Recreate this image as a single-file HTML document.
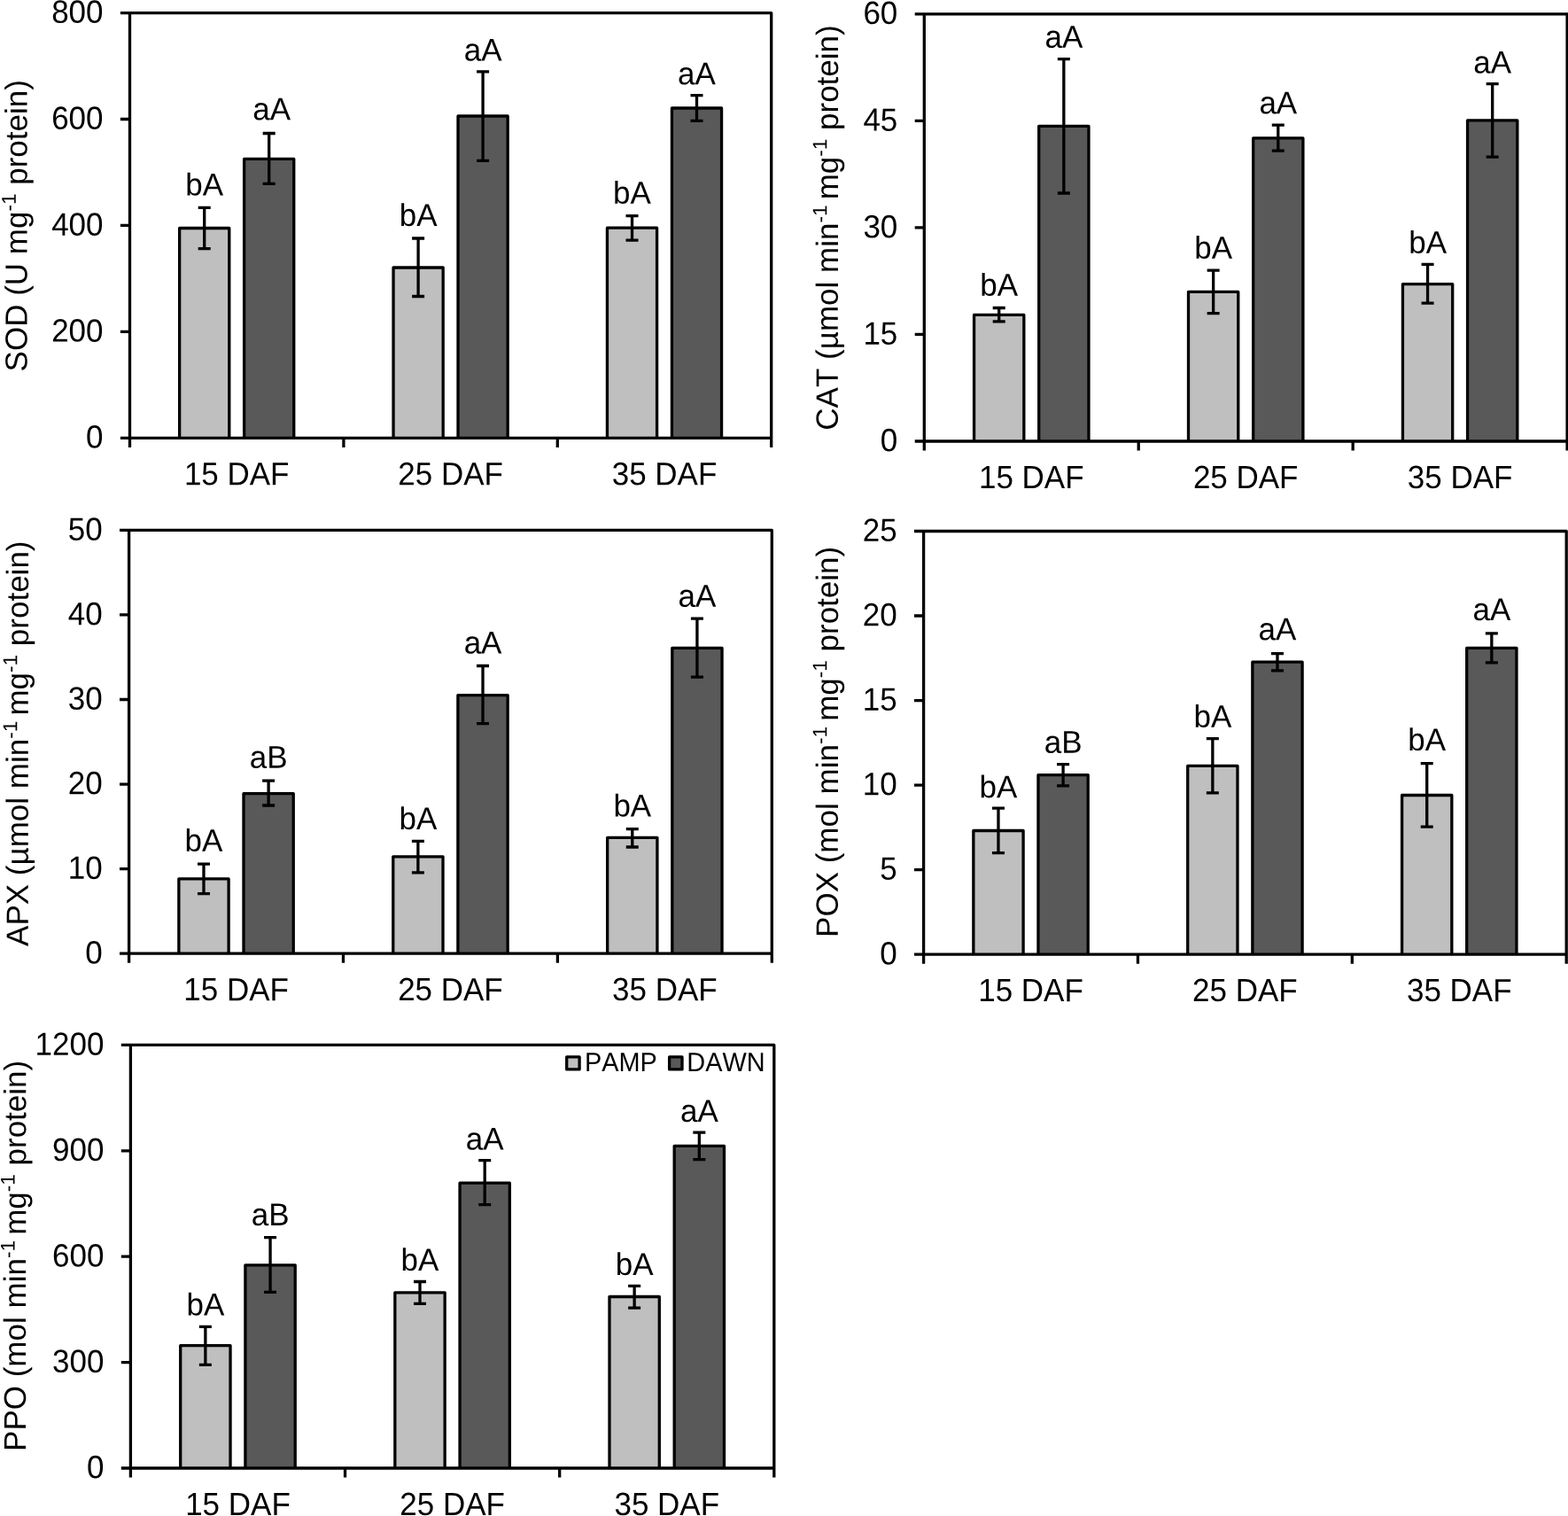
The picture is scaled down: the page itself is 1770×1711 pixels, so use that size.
<!DOCTYPE html>
<html lang="en"><head><meta charset="utf-8"><title>Antioxidant enzyme activity</title>
<style>
html,body{margin:0;padding:0;background:#fff;}
body{width:1770px;height:1711px;overflow:hidden;}
svg{display:block;}
text{font-family:"Liberation Sans",Arial,Helvetica,sans-serif;font-size:35px;fill:#000;font-kerning:none;}
.ln{stroke:#000;stroke-width:3.3;fill:none;stroke-linecap:butt;stroke-linejoin:round;}
.lb{fill:#bfbfbf;stroke:#000;stroke-width:3.3;stroke-linejoin:round;}
.db{fill:#595959;stroke:#000;stroke-width:3.3;stroke-linejoin:round;}
.m{text-anchor:middle;}.e{text-anchor:end;}
.lg{font-size:28.9px;}
</style></head><body>
<svg width="1770" height="1711" viewBox="0 0 1770 1711" role="img" aria-label="Antioxidant enzyme activities (SOD, CAT, APX, POX, PPO) in PAMP and DAWN at 15, 25 and 35 DAF">
<rect x="0" y="0" width="1770" height="1711" fill="#fff"/>
<g id="sod">
<path class="lb" d="M202.64 494.3V257.5H258.78V494.3"/>
<path class="db" d="M275.62 494.3V179.3H331.76V494.3"/>
<path class="lb" d="M444.04 494.3V302H500.18V494.3"/>
<path class="db" d="M517.02 494.3V131H573.16V494.3"/>
<path class="lb" d="M685.44 494.3V257.2H741.58V494.3"/>
<path class="db" d="M758.42 494.3V122H814.56V494.3"/>
<path class="ln" d="M135.9 14.55H870.7V504.9"/>
<path class="ln" d="M146.5 14.55V504.9"/>
<path class="ln" d="M135.9 494.3H870.7"/>
<path class="ln" d="M135.9 134.49H146.5M135.9 254.43H146.5M135.9 374.36H146.5M387.9 494.3V504.9M629.3 494.3V504.9"/>
<path class="ln" d="M230.71 234.3V280.6M223.71 234.3H237.71M223.71 280.6H237.71M303.69 150.5V207.3M296.69 150.5H310.69M296.69 207.3H310.69M472.11 269V334.5M465.11 269H479.11M465.11 334.5H479.11M545.09 80.8V181.3M538.09 80.8H552.09M538.09 181.3H552.09M713.51 243.6V271.1M706.51 243.6H720.51M706.51 271.1H720.51M786.49 107.7V136.3M779.49 107.7H793.49M779.49 136.3H793.49"/>
<text class="m" transform="matrix(1 0.001 0 1.02 230.71 220.4)">bA</text>
<text class="m" transform="matrix(1 0.001 0 1.02 306.59 135.3)">aA</text>
<text class="m" transform="matrix(1 0.001 0 1.02 472.11 254.9)">bA</text>
<text class="m" transform="matrix(1 0.001 0 1.02 545.09 68.5)">aA</text>
<text class="m" transform="matrix(1 0.001 0 1.02 713.51 229.8)">bA</text>
<text class="m" transform="matrix(1 0.001 0 1.02 786.49 95.3)">aA</text>
<text class="e" transform="matrix(1 0.001 0 1.04 116.5 25.85)">800</text>
<text class="e" transform="matrix(1 0.001 0 1.04 116.5 145.79)">600</text>
<text class="e" transform="matrix(1 0.001 0 1.04 116.5 265.73)">400</text>
<text class="e" transform="matrix(1 0.001 0 1.04 116.5 385.66)">200</text>
<text class="e" transform="matrix(1 0.001 0 1.04 116.5 505.6)">0</text>
<text class="m" transform="matrix(1 0.001 0 1.04 267.2 547.3)">15 DAF</text>
<text class="m" transform="matrix(1 0.001 0 1.04 508.6 547.3)">25 DAF</text>
<text class="m" transform="matrix(1 0.001 0 1.04 750 547.3)">35 DAF</text>
<text transform="translate(30.4 419.4) rotate(-89.97)">SOD (U mg<tspan dy="-12.7" font-size="22.5">-1</tspan><tspan dy="12.7"> protein)</tspan></text>
</g>
<g id="cat">
<path class="lb" d="M1099.56 498V355.4H1155.83V498"/>
<path class="db" d="M1172.71 498V142.4H1228.97V498"/>
<path class="lb" d="M1341.5 498V329.4H1397.76V498"/>
<path class="db" d="M1414.64 498V155.9H1470.9V498"/>
<path class="lb" d="M1583.43 498V320.7H1639.69V498"/>
<path class="db" d="M1656.57 498V135.9H1712.84V498"/>
<path class="ln" d="M1032.7 15.8H1769.1V508.6"/>
<path class="ln" d="M1043.3 15.8V508.6"/>
<path class="ln" d="M1032.7 498H1769.1"/>
<path class="ln" d="M1032.7 136.35H1043.3M1032.7 256.9H1043.3M1032.7 377.45H1043.3M1285.23 498V508.6M1527.17 498V508.6"/>
<path class="ln" d="M1127.7 347.5V362.8M1120.7 347.5H1134.7M1120.7 362.8H1134.7M1200.84 66.6V218M1193.84 66.6H1207.84M1193.84 218H1207.84M1369.63 305.1V353.6M1362.63 305.1H1376.63M1362.63 353.6H1376.63M1442.77 141.2V170.1M1435.77 141.2H1449.77M1435.77 170.1H1449.77M1611.56 298.4V342.2M1604.56 298.4H1618.56M1604.56 342.2H1618.56M1684.7 94.7V177.1M1677.7 94.7H1691.7M1677.7 177.1H1691.7"/>
<text class="m" transform="matrix(1 0.001 0 1.02 1127.7 333.8)">bA</text>
<text class="m" transform="matrix(1 0.001 0 1.02 1200.84 53.8)">aA</text>
<text class="m" transform="matrix(1 0.001 0 1.02 1369.63 291.7)">bA</text>
<text class="m" transform="matrix(1 0.001 0 1.02 1442.77 128.3)">aA</text>
<text class="m" transform="matrix(1 0.001 0 1.02 1611.56 285.8)">bA</text>
<text class="m" transform="matrix(1 0.001 0 1.02 1684.7 82.4)">aA</text>
<text class="e" transform="matrix(1 0.001 0 1.04 1013.3 27.1)">60</text>
<text class="e" transform="matrix(1 0.001 0 1.04 1013.3 147.65)">45</text>
<text class="e" transform="matrix(1 0.001 0 1.04 1013.3 268.2)">30</text>
<text class="e" transform="matrix(1 0.001 0 1.04 1013.3 388.75)">15</text>
<text class="e" transform="matrix(1 0.001 0 1.04 1013.3 509.3)">0</text>
<text class="m" transform="matrix(1 0.001 0 1.04 1164.27 551)">15 DAF</text>
<text class="m" transform="matrix(1 0.001 0 1.04 1406.2 551)">25 DAF</text>
<text class="m" transform="matrix(1 0.001 0 1.04 1648.13 551)">35 DAF</text>
<text transform="translate(945.8 485.66) rotate(-89.97)">CAT (µmol min<tspan dy="-12.7" font-size="22.5">-1 </tspan><tspan dy="12.7">mg</tspan><tspan dy="-12.7" font-size="22.5">-1</tspan><tspan dy="12.7"> protein)</tspan></text>
</g>
<g id="apx">
<path class="lb" d="M201.86 1076.15V991.9H258.11V1076.15"/>
<path class="db" d="M274.99 1076.15V895.7H331.24V1076.15"/>
<path class="lb" d="M443.76 1076.15V966.8H500.01V1076.15"/>
<path class="db" d="M516.89 1076.15V784.6H573.14V1076.15"/>
<path class="lb" d="M685.66 1076.15V945.3H741.91V1076.15"/>
<path class="db" d="M758.79 1076.15V731.3H815.04V1076.15"/>
<path class="ln" d="M135 598.4H871.3V1086.75"/>
<path class="ln" d="M145.6 598.4V1086.75"/>
<path class="ln" d="M135 1076.15H871.3"/>
<path class="ln" d="M135 693.95H145.6M135 789.5H145.6M135 885.05H145.6M135 980.6H145.6M387.5 1076.15V1086.75M629.4 1076.15V1086.75"/>
<path class="ln" d="M229.98 975.2V1008.7M222.98 975.2H236.98M222.98 1008.7H236.98M303.12 881.1V909M296.12 881.1H310.12M296.12 909H310.12M471.88 949.3V984.9M464.88 949.3H478.88M464.88 984.9H478.88M545.02 751.5V816.6M538.02 751.5H552.02M538.02 816.6H552.02M713.78 935.7V956M706.78 935.7H720.78M706.78 956H720.78M786.92 698.2V764.2M779.92 698.2H793.92M779.92 764.2H793.92"/>
<text class="m" transform="matrix(1 0.001 0 1.02 229.98 960.8)">bA</text>
<text class="m" transform="matrix(1 0.001 0 1.02 303.12 866.8)">aB</text>
<text class="m" transform="matrix(1 0.001 0 1.02 471.88 936)">bA</text>
<text class="m" transform="matrix(1 0.001 0 1.02 545.02 737.4)">aA</text>
<text class="m" transform="matrix(1 0.001 0 1.02 713.78 921.6)">bA</text>
<text class="m" transform="matrix(1 0.001 0 1.02 786.92 684.8)">aA</text>
<text class="e" transform="matrix(1 0.001 0 1.04 115.6 609.7)">50</text>
<text class="e" transform="matrix(1 0.001 0 1.04 115.6 705.25)">40</text>
<text class="e" transform="matrix(1 0.001 0 1.04 115.6 800.8)">30</text>
<text class="e" transform="matrix(1 0.001 0 1.04 115.6 896.35)">20</text>
<text class="e" transform="matrix(1 0.001 0 1.04 115.6 991.9)">10</text>
<text class="e" transform="matrix(1 0.001 0 1.04 115.6 1087.45)">0</text>
<text class="m" transform="matrix(1 0.001 0 1.04 266.55 1129.15)">15 DAF</text>
<text class="m" transform="matrix(1 0.001 0 1.04 508.45 1129.15)">25 DAF</text>
<text class="m" transform="matrix(1 0.001 0 1.04 750.35 1129.15)">35 DAF</text>
<text transform="translate(31.7 1067.91) rotate(-89.97)">APX (µmol min<tspan dy="-12.7" font-size="22.5">-1 </tspan><tspan dy="12.7">mg</tspan><tspan dy="-12.7" font-size="22.5">-1</tspan><tspan dy="12.7"> protein)</tspan></text>
</g>
<g id="pox">
<path class="lb" d="M1098.85 1077.1V937.5H1155.1V1077.1"/>
<path class="db" d="M1171.97 1077.1V874.7H1228.22V1077.1"/>
<path class="lb" d="M1340.71 1077.1V864.4H1396.96V1077.1"/>
<path class="db" d="M1413.84 1077.1V747.2H1470.09V1077.1"/>
<path class="lb" d="M1582.58 1077.1V897.5H1638.83V1077.1"/>
<path class="db" d="M1655.7 1077.1V731.3H1711.95V1077.1"/>
<path class="ln" d="M1032 599.5H1768.2V1087.7"/>
<path class="ln" d="M1042.6 599.5V1087.7"/>
<path class="ln" d="M1032 1077.1H1768.2"/>
<path class="ln" d="M1032 695.02H1042.6M1032 790.54H1042.6M1032 886.06H1042.6M1032 981.58H1042.6M1284.47 1077.1V1087.7M1526.33 1077.1V1087.7"/>
<path class="ln" d="M1126.97 912.1V962.6M1119.97 912.1H1133.97M1119.97 962.6H1133.97M1200.09 862.6V886.9M1193.09 862.6H1207.09M1193.09 886.9H1207.09M1368.84 833.6V894.9M1361.84 833.6H1375.84M1361.84 894.9H1375.84M1441.96 737.6V756.9M1434.96 737.6H1448.96M1434.96 756.9H1448.96M1610.71 861.6V933.1M1603.71 861.6H1617.71M1603.71 933.1H1617.71M1683.83 714.8V747.9M1676.83 714.8H1690.83M1676.83 747.9H1690.83"/>
<text class="m" transform="matrix(1 0.001 0 1.02 1126.97 900.3)">bA</text>
<text class="m" transform="matrix(1 0.001 0 1.02 1200.09 849.8)">aB</text>
<text class="m" transform="matrix(1 0.001 0 1.02 1368.84 820.8)">bA</text>
<text class="m" transform="matrix(1 0.001 0 1.02 1441.96 722.2)">aA</text>
<text class="m" transform="matrix(1 0.001 0 1.02 1610.71 847)">bA</text>
<text class="m" transform="matrix(1 0.001 0 1.02 1683.83 700.1)">aA</text>
<text class="e" transform="matrix(1 0.001 0 1.04 1012.6 610.8)">25</text>
<text class="e" transform="matrix(1 0.001 0 1.04 1012.6 706.32)">20</text>
<text class="e" transform="matrix(1 0.001 0 1.04 1012.6 801.84)">15</text>
<text class="e" transform="matrix(1 0.001 0 1.04 1012.6 897.36)">10</text>
<text class="e" transform="matrix(1 0.001 0 1.04 1012.6 992.88)">5</text>
<text class="e" transform="matrix(1 0.001 0 1.04 1012.6 1088.4)">0</text>
<text class="m" transform="matrix(1 0.001 0 1.04 1163.53 1130.1)">15 DAF</text>
<text class="m" transform="matrix(1 0.001 0 1.04 1405.4 1130.1)">25 DAF</text>
<text class="m" transform="matrix(1 0.001 0 1.04 1647.27 1130.1)">35 DAF</text>
<text transform="translate(945.8 1057.92) rotate(-89.97)">POX (mol min<tspan dy="-12.7" font-size="22.5">-1 </tspan><tspan dy="12.7">mg</tspan><tspan dy="-12.7" font-size="22.5">-1</tspan><tspan dy="12.7"> protein)</tspan></text>
</g>
<g id="ppo">
<path class="lb" d="M203.71 1657V1518.7H260.02V1657"/>
<path class="db" d="M276.91 1657V1427.8H333.22V1657"/>
<path class="lb" d="M445.84 1657V1458.9H502.15V1657"/>
<path class="db" d="M519.05 1657V1335.2H575.36V1657"/>
<path class="lb" d="M687.98 1657V1463.5H744.29V1657"/>
<path class="db" d="M761.18 1657V1293.3H817.49V1657"/>
<path class="ln" d="M136.8 1179.45H873.8V1667.6"/>
<path class="ln" d="M147.4 1179.45V1667.6"/>
<path class="ln" d="M136.8 1657H873.8"/>
<path class="ln" d="M136.8 1298.84H147.4M136.8 1418.22H147.4M136.8 1537.61H147.4M389.53 1657V1667.6M631.67 1657V1667.6"/>
<path class="ln" d="M231.87 1497.3V1540.4M224.87 1497.3H238.87M224.87 1540.4H238.87M305.07 1396.6V1458.3M298.07 1396.6H312.07M298.07 1458.3H312.07M474 1446.5V1471.4M467 1446.5H481M467 1471.4H481M547.2 1309.6V1359.7M540.2 1309.6H554.2M540.2 1359.7H554.2M716.13 1451.4V1476.1M709.13 1451.4H723.13M709.13 1476.1H723.13M789.33 1278.2V1308.7M782.33 1278.2H796.33M782.33 1308.7H796.33"/>
<text class="m" transform="matrix(1 0.001 0 1.02 231.87 1484.6)">bA</text>
<text class="m" transform="matrix(1 0.001 0 1.02 305.07 1382.9)">aB</text>
<text class="m" transform="matrix(1 0.001 0 1.02 474 1433.9)">bA</text>
<text class="m" transform="matrix(1 0.001 0 1.02 547.2 1297.4)">aA</text>
<text class="m" transform="matrix(1 0.001 0 1.02 716.13 1439)">bA</text>
<text class="m" transform="matrix(1 0.001 0 1.02 789.33 1266)">aA</text>
<text class="e" transform="matrix(1 0.001 0 1.04 117.4 1190.75)">1200</text>
<text class="e" transform="matrix(1 0.001 0 1.04 117.4 1310.14)">900</text>
<text class="e" transform="matrix(1 0.001 0 1.04 117.4 1429.52)">600</text>
<text class="e" transform="matrix(1 0.001 0 1.04 117.4 1548.91)">300</text>
<text class="e" transform="matrix(1 0.001 0 1.04 117.4 1668.3)">0</text>
<text class="m" transform="matrix(1 0.001 0 1.04 268.47 1710)">15 DAF</text>
<text class="m" transform="matrix(1 0.001 0 1.04 510.6 1710)">25 DAF</text>
<text class="m" transform="matrix(1 0.001 0 1.04 752.73 1710)">35 DAF</text>
<text transform="translate(29 1637.92) rotate(-89.97)">PPO (mol min<tspan dy="-12.7" font-size="22.5">-1 </tspan><tspan dy="12.7">mg</tspan><tspan dy="-12.7" font-size="22.5">-1</tspan><tspan dy="12.7"> protein)</tspan></text>
<rect class="lb" x="639.7" y="1192.9" width="14.4" height="14"/>
<text class="lg" transform="matrix(1 0.001 0 1.04 660 1208.9)">PAMP</text>
<rect class="db" x="755.6" y="1192.9" width="14.4" height="14"/>
<text class="lg" transform="matrix(1 0.001 0 1.04 775.3 1208.9)">DAWN</text>
</g>
</svg>
</body></html>
